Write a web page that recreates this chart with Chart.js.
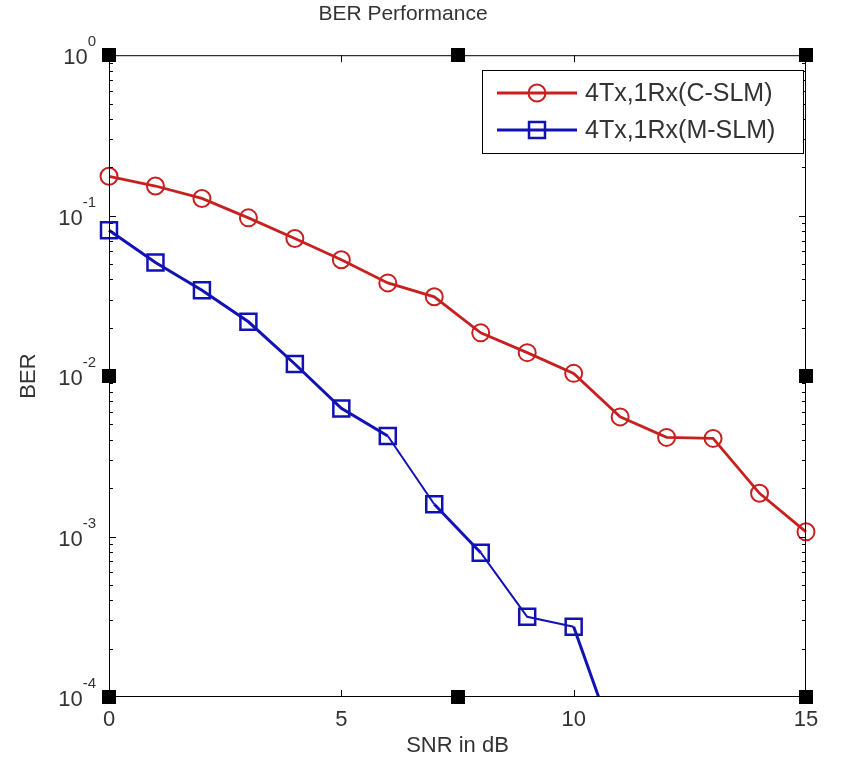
<!DOCTYPE html>
<html>
<head>
<meta charset="utf-8">
<title>BER Performance</title>
<script src="https://cdn.jsdelivr.net/npm/chart.js@4"></script>
<style>
  html, body { margin: 0; padding: 0; background: #fff; }
  canvas { display: block; }
</style>
</head>
<body>
<canvas id="berChart" width="857" height="783"></canvas>
<script>
// values
const snr = [0, 1, 2, 3, 4, 5, 6, 7, 8, 9, 10, 11, 12, 13, 14, 15];
const berCSLM = [0.176, 0.153, 0.128, 0.0969, 0.0721, 0.0531, 0.0381, 0.0312, 0.0186, 0.0140,
                 0.0104, 0.00557, 0.00415, 0.00409, 0.00186, 0.00107];
const berMSLM = [0.0812, 0.0511, 0.0343, 0.0218, 0.0119, 0.00629, 0.00423, 0.00159, 0.000793,
                 0.000316, 0.000274, 0.000042];
const seriesNames = ['4Tx,1Rx(C-SLM)', '4Tx,1Rx(M-SLM)'];
const xTicks = [0, 5, 10, 15];
const yDecades = [1e-4, 1e-3, 1e-2, 1e-1, 1];
const yExponents = ['-4', '-3', '-2', '-1', '0'];

const FONT = "'Liberation Sans', Arial, sans-serif";
const RED = 'rgb(200, 32, 32)';
const BLUE = 'rgb(18, 18, 180)';

const toPoints = (xs, ys) => ys.map((v, i) => ({ x: xs[i], y: v }));

// matlab-ish box, inward ticks, superscript labels and legend
const matlabAxes = {
  id: 'matlabAxes',
  afterDraw(chart) {
    const { ctx, chartArea: a, scales: { x, y } } = chart;
    ctx.save();
    ctx.strokeStyle = '#000';
    ctx.lineWidth = 1;
    const seg = (x1, y1, x2, y2) => { ctx.beginPath(); ctx.moveTo(x1, y1); ctx.lineTo(x2, y2); ctx.stroke(); };
    ctx.strokeRect(a.left + 0.5, a.top + 0.5, a.right - a.left - 1, a.bottom - a.top - 1);

    xTicks.forEach(v => {
      const px = Math.round(x.getPixelForValue(v)) + 0.5;
      seg(px, a.bottom, px, a.bottom - 7);
      seg(px, a.top, px, a.top + 7);
    });
    yDecades.forEach((d, i) => {
      const py = Math.round(y.getPixelForValue(d)) + 0.5;
      seg(a.left, py, a.left + 7, py);
      seg(a.right, py, a.right - 7, py);
      if (i < yDecades.length - 1) {
        for (let k = 2; k <= 9; k++) {
          const pm = Math.round(y.getPixelForValue(d * k)) + 0.5;
          seg(a.left, pm, a.left + 4, pm);
          seg(a.right, pm, a.right - 4, pm);
        }
      }
    });

    // black squares on the box
    ctx.fillStyle = '#000';
    [[0, 1], [7.5, 1], [15, 1], [0, 1e-2], [15, 1e-2], [0, 1e-4], [7.5, 1e-4], [15, 1e-4]].forEach(([vx, vy]) => {
      const px = Math.round(x.getPixelForValue(vx));
      const py = Math.round(y.getPixelForValue(vy));
      ctx.fillRect(px - 7, py - 7, 14, 14);
    });

    // y tick labels 10^n
    ctx.fillStyle = '#333';
    ctx.textBaseline = 'alphabetic';
    yDecades.forEach((d, i) => {
      const py = y.getPixelForValue(d);
      ctx.font = '15px ' + FONT;
      ctx.textAlign = 'right';
      const ex = yExponents[i];
      const exW = ctx.measureText(ex).width;
      ctx.fillText(ex, 96, py - 9);
      ctx.font = '22px ' + FONT;
      ctx.fillText('10', 96 - exW, py + 9);
    });

    // legend
    const box = { l: 482, t: 70, r: 803, b: 153 };
    ctx.fillStyle = '#fff';
    ctx.fillRect(box.l, box.t, box.r - box.l, box.b - box.t);
    ctx.strokeRect(box.l + 0.5, box.t + 0.5, box.r - box.l, box.b - box.t);
    const rows = [93, 130];
    chart.data.datasets.forEach((ds, i) => {
      const ry = rows[i];
      ctx.strokeStyle = ds.borderColor;
      ctx.lineWidth = ds.borderWidth;
      seg(497, ry, 577, ry);
      ctx.lineWidth = ds.pointBorderWidth;
      ctx.beginPath();
      if (ds.pointStyle === 'circle') {
        ctx.arc(537, ry, ds.pointRadius, 0, Math.PI * 2);
      } else {
        const h = ds.pointRadius * Math.SQRT1_2;
        ctx.rect(537 - h, ry - h, 2 * h, 2 * h);
      }
      ctx.stroke();
      ctx.fillStyle = '#333';
      ctx.font = '25px ' + FONT;
      ctx.textAlign = 'left';
      ctx.textBaseline = 'middle';
      ctx.fillText(ds.label, 585, ry + 1);
    });
    ctx.restore();
  }
};

const ctx = document.getElementById('berChart').getContext('2d');
const chart = new Chart(ctx, {
  type: 'line',
  data: {
    datasets: [{
      label: seriesNames[0],
      data: toPoints(snr, berCSLM),
      borderColor: RED,
      borderWidth: 2.8,
      pointStyle: 'circle',
      pointRadius: 8.5,
      pointBorderWidth: 2,
      pointBorderColor: RED,
      pointBackgroundColor: 'rgba(0,0,0,0)',
      clip: { left: 15, right: 15, top: 0, bottom: 15 },
      tension: 0
    }, {
      label: seriesNames[1],
      data: toPoints(snr, berMSLM),
      borderColor: BLUE,
      borderWidth: 3,
      segment: {
        borderWidth: c => ([6, 8, 9].includes(c.p0DataIndex) ? 2 : 3)
      },
      pointStyle: 'rect',
      pointRadius: 11.3,
      pointBorderWidth: 2.5,
      pointBorderColor: BLUE,
      pointBackgroundColor: 'rgba(0,0,0,0)',
      clip: { left: 15, right: 15, top: 0, bottom: 0 },
      tension: 0
    }]
  },
  options: {
    responsive: false,
    animation: false,
    devicePixelRatio: 1,
    layout: { padding: { left: 0, right: 51, top: 0, bottom: 0 } },
    plugins: {
      legend: { display: false },
      tooltip: { enabled: false },
      title: {
        display: true,
        text: 'BER Performance',
        color: '#333',
        font: { family: FONT, size: 21, weight: 'normal' },
        padding: { top: 2, bottom: 28 }
      }
    },
    scales: {
      x: {
        type: 'linear',
        min: 0,
        max: 15,
        grid: { display: false, drawTicks: false },
        border: { display: false },
        afterBuildTicks: s => { s.ticks = xTicks.map(v => ({ value: v })); },
        afterFit: s => { s.height = 86; },
        ticks: { color: '#333', font: { family: FONT, size: 22 }, padding: 10, maxRotation: 0 },
        title: {
          display: true,
          text: 'SNR in dB',
          color: '#333',
          font: { family: FONT, size: 22 },
          padding: { top: 24, bottom: 24 }
        }
      },
      y: {
        type: 'logarithmic',
        min: 1e-4,
        max: 1,
        grid: { display: false, drawTicks: false },
        border: { display: false },
        afterBuildTicks: s => { s.ticks = yDecades.map(v => ({ value: v })); },
        afterFit: s => { s.width = 109; },
        ticks: { display: false },
        title: {
          display: true,
          text: 'BER',
          color: '#333',
          font: { family: FONT, size: 22 },
          padding: { top: 16, bottom: 16 }
        }
      }
    }
  },
  plugins: [matlabAxes]
});
</script>
</body>
</html>
